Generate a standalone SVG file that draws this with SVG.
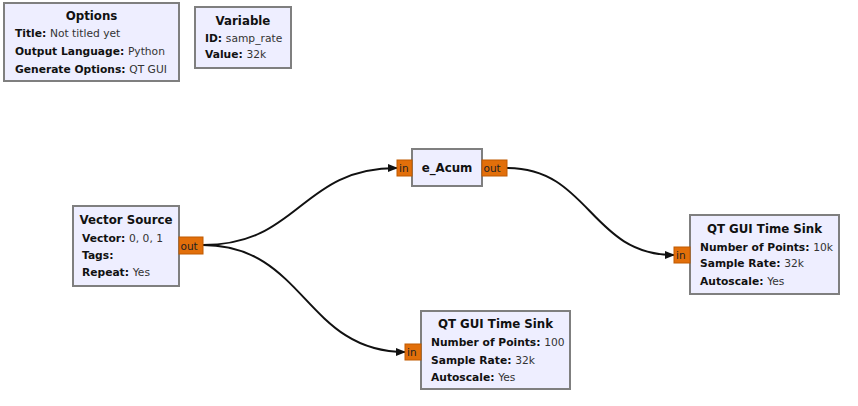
<svg xmlns="http://www.w3.org/2000/svg" width="858" height="406" viewBox="0 0 858 406">
<style>
.blk{fill:#eeeeff;stroke:#7f7f7f;stroke-width:2}
.port{fill:#e26f0a;stroke:#c05a00;stroke-width:1}
.t{font-family:"DejaVu Sans",sans-serif;font-size:11.8px;font-weight:bold;fill:#111;text-anchor:middle}
.l{font-family:"DejaVu Sans",sans-serif;font-size:10.7px;fill:#333}
.l tspan.k{font-weight:bold;fill:#111}
.p{font-family:"DejaVu Sans",sans-serif;font-size:10.5px;fill:#222}
.c{fill:none;stroke:#111;stroke-width:2}
</style>
<defs>
<marker id="ah" markerWidth="10" markerHeight="8" refX="9" refY="4" orient="auto" markerUnits="userSpaceOnUse">
<path d="M0,0 L10,4 L0,8 Z" fill="#111"/>
</marker>
</defs>
<rect width="858" height="406" fill="#ffffff"/>
<g id="connectors">
<path class="c" marker-end="url(#ah)" d="M203,245 C300,245 300,168 397,168"/>
<path class="c" marker-end="url(#ah)" d="M203,245 C305,245 305,352 405,352"/>
<path class="c" marker-end="url(#ah)" d="M507,168 C590,168 590,255 674,255"/>
</g>
<g id="options">
<rect class="blk" x="4" y="3" width="175" height="78"/>
<text class="t" x="91.5" y="20">Options</text>
<text class="l" x="15" y="37"><tspan class="k">Title: </tspan>Not titled yet</text>
<text class="l" x="15" y="55"><tspan class="k">Output Language: </tspan>Python</text>
<text class="l" x="15" y="73"><tspan class="k">Generate Options: </tspan>QT GUI</text>
</g>
<g id="variable">
<rect class="blk" x="195" y="7" width="96" height="61"/>
<text class="t" x="243" y="25">Variable</text>
<text class="l" x="205" y="42"><tspan class="k">ID: </tspan>samp_rate</text>
<text class="l" x="205" y="58"><tspan class="k">Value: </tspan>32k</text>
</g>
<g id="vector_source">
<rect class="blk" x="73" y="206" width="106" height="80"/>
<text class="t" x="126" y="224">Vector Source</text>
<text class="l" x="82" y="242"><tspan class="k">Vector: </tspan>0, 0, 1</text>
<text class="l" x="82" y="259"><tspan class="k">Tags:</tspan></text>
<text class="l" x="82" y="276"><tspan class="k">Repeat: </tspan>Yes</text>
<rect class="port" x="179" y="237" width="24" height="17"/>
<text class="p" x="180.5" y="249.5">out</text>
</g>
<g id="e_acum">
<rect class="blk" x="412" y="149" width="70" height="37"/>
<text class="t" x="447" y="172">e_Acum</text>
<rect class="port" x="397" y="160" width="15" height="16"/>
<text class="p" x="399" y="172">in</text>
<rect class="port" x="482" y="160" width="25" height="16"/>
<text class="p" x="483.5" y="172">out</text>
</g>
<g id="time_sink_1">
<rect class="blk" x="690" y="215" width="149" height="79"/>
<text class="t" x="764.5" y="233">QT GUI Time Sink</text>
<text class="l" x="700" y="251"><tspan class="k">Number of Points: </tspan>10k</text>
<text class="l" x="700" y="267"><tspan class="k">Sample Rate: </tspan>32k</text>
<text class="l" x="700" y="285"><tspan class="k">Autoscale: </tspan>Yes</text>
<rect class="port" x="674" y="247" width="16" height="16"/>
<text class="p" x="676" y="259">in</text>
</g>
<g id="time_sink_2">
<rect class="blk" x="421" y="311" width="149" height="78"/>
<text class="t" x="495.5" y="328">QT GUI Time Sink</text>
<text class="l" x="431" y="346"><tspan class="k">Number of Points: </tspan>100</text>
<text class="l" x="431" y="364"><tspan class="k">Sample Rate: </tspan>32k</text>
<text class="l" x="431" y="381"><tspan class="k">Autoscale: </tspan>Yes</text>
<rect class="port" x="405" y="344" width="16" height="16"/>
<text class="p" x="407" y="356">in</text>
</g>
</svg>
